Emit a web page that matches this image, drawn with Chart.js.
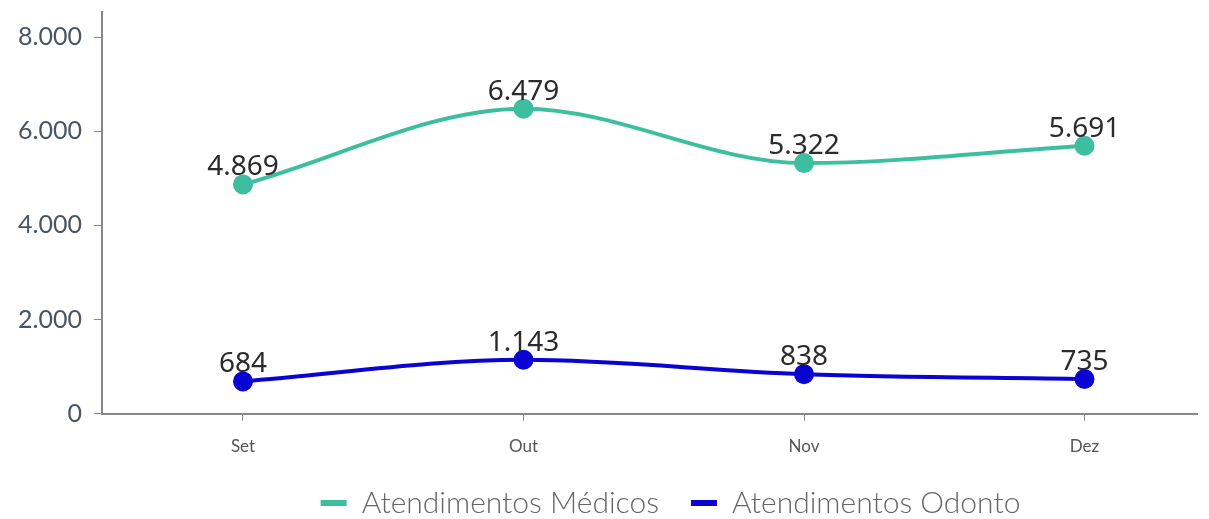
<!DOCTYPE html>
<html>
<head>
<meta charset="utf-8">
<script src="https://cdn.jsdelivr.net/npm/chart.js@4"></script>
<style>
  html, body { margin: 0; padding: 0; background: #fff; overflow: hidden; }
  #wrap { width: 1209px; height: 519px; position: relative; }
  #chart { display: block; }
</style>
</head>
<body>
<div id="wrap"><canvas id="chart"></canvas></div>
<script>
const months = ['Set', 'Out', 'Nov', 'Dez'];
const medicos = [4869, 6479, 5322, 5691];
const odonto = [684, 1143, 838, 735];
const yTicks = [0, 2000, 4000, 6000, 8000];

const fmt = v => v.toLocaleString('pt-BR');
const toPoints = arr => arr.map((v, i) => ({ x: i, y: v }));

// value labels above each point
const valueLabels = {
  id: 'valueLabels',
  afterDatasetsDraw(chart) {
    const ctx = chart.ctx;
    ctx.save();
    ctx.font = '28px "Noto Sans", "Open Sans", sans-serif';
    ctx.fillStyle = '#2b2b2b';
    ctx.textAlign = 'center';
    ctx.textBaseline = 'alphabetic';
    chart.data.datasets.forEach((ds, di) => {
      chart.getDatasetMeta(di).data.forEach((pt, i) => {
        ctx.fillText(fmt(ds.data[i].y), pt.x, pt.y - 9);
      });
    });
    ctx.restore();
  }
};

// legend sits a bit right of the canvas centre
const legendShift = {
  id: 'legendShift',
  afterLayout(chart) {
    const lg = chart.legend;
    if (!lg) return;
    lg.left += 63;
    lg.right += 63;
  }
};

// let the plot area run to the edges; labels can overhang
const noEdgePadding = s => {
  s.paddingLeft = 0;
  s.paddingRight = 0;
  s.paddingTop = 0;
  s.paddingBottom = 0;
};

new Chart(document.getElementById('chart'), {
  type: 'line',
  data: {
    datasets: [
      {
        label: 'Atendimentos Médicos',
        data: toPoints(medicos),
        borderColor: '#3dbf9f',
        backgroundColor: '#3dbf9f',
        borderWidth: 4,
        pointRadius: 8,
        pointHoverRadius: 8,
        cubicInterpolationMode: 'monotone'
      },
      {
        label: 'Atendimentos Odonto',
        data: toPoints(odonto),
        borderColor: '#0b03d1',
        backgroundColor: '#0b03d1',
        borderWidth: 4,
        pointRadius: 8,
        pointHoverRadius: 8,
        cubicInterpolationMode: 'monotone'
      }
    ]
  },
  options: {
    responsive: true,
    maintainAspectRatio: false,
    animation: false,
    layout: { padding: { left: 6, right: 0, top: 12, bottom: -9 } },
    scales: {
      x: {
        type: 'linear',
        min: -0.503,
        max: 3.401,
        afterBuildTicks: scale => {
          scale.ticks = months.map((m, i) => ({ value: i }));
        },
        afterFit: s => {
          noEdgePadding(s);
          s.height -= 17;
        },
        ticks: {
          callback: v => months[v],
          color: '#555',
          font: { family: 'Lato', size: 17 },
          padding: 16,
          maxRotation: 0
        },
        grid: { drawOnChartArea: false, tickLength: 7, color: '#888' },
        border: { color: '#888', width: 2 }
      },
      y: {
        min: 0,
        max: 8532,
        afterBuildTicks: scale => {
          scale.ticks = yTicks.map(v => ({ value: v }));
        },
        afterFit: noEdgePadding,
        ticks: {
          callback: v => fmt(v),
          color: '#4a5563',
          font: { family: 'Lato', size: 25 },
          padding: 12
        },
        grid: { drawOnChartArea: false, tickLength: 8, color: '#888' },
        border: { color: '#888', width: 2 }
      }
    },
    plugins: {
      tooltip: { enabled: false },
      legend: {
        position: 'bottom',
        labels: {
          color: '#666',
          font: { family: 'Lato', size: 30, weight: '300' },
          boxWidth: 26,
          boxHeight: 6,
          padding: 32,
          generateLabels: chart => Chart.defaults.plugins.legend.labels.generateLabels(chart)
            .map(l => ({ ...l, lineWidth: 0 }))
        }
      }
    }
  },
  plugins: [valueLabels, legendShift]
});
</script>
</body>
</html>
